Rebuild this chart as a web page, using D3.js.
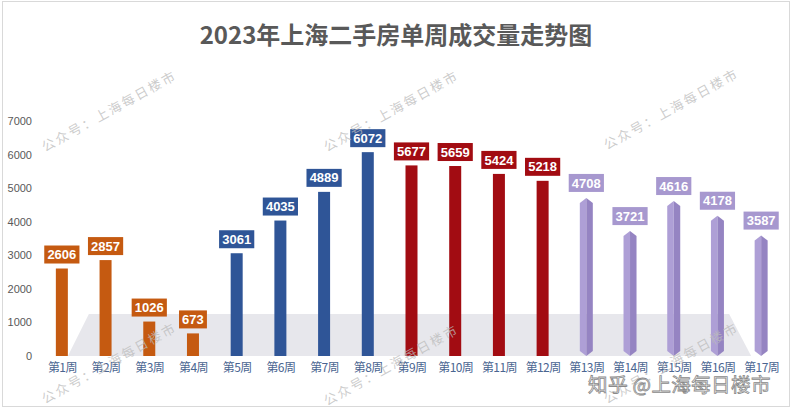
<!DOCTYPE html>
<html><head><meta charset="utf-8">
<script src="https://cdn.jsdelivr.net/npm/d3@7"></script>
<style>html,body{margin:0;padding:0;background:#fff;}svg{display:block;}</style>
</head><body>
<svg id="chart" width="791" height="417"></svg>
<script>
const title = "2023年上海二手房单周成交量走势图";
const categories = ["第1周","第2周","第3周","第4周","第5周","第6周","第7周","第8周","第9周","第10周","第11周","第12周","第13周","第14周","第15周","第16周","第17周"];
const values = [2606,2857,1026,673,3061,4035,4889,6072,5677,5659,5424,5218,4708,3721,4616,4178,3587];
const groups = ["orange","orange","orange","orange","blue","blue","blue","blue","red","red","red","red","purple","purple","purple","purple","purple"];
const yTicks = [0,1000,2000,3000,4000,5000,6000,7000];
const watermark = "公众号：上海每日楼市";
const brand = "知乎 @上海每日楼市";

const colors = {orange:"#c55a11", blue:"#2f5597", red:"#a20c12", purple:"#a393cc"};
const svg = d3.select("#chart");
const cjk = "'Noto Sans CJK SC','Noto Sans',sans-serif";

// border
svg.append("rect").attr("x",2.5).attr("y",1.5).attr("width",787).attr("height",405)
  .attr("fill","#fff").attr("stroke","#d9d9d9").attr("stroke-width",1);

const x = d3.scalePoint().domain(categories).range([40, 783]).padding(0.5);
const y = d3.scaleLinear().domain([0,7000]).range([356,121]);
const bw = 12;

// title
svg.append("text").attr("x",396).attr("y",44).attr("text-anchor","middle")
  .attr("font-family",cjk).attr("font-weight","bold").attr("font-size",24)
  .attr("fill","#595959").text(title);

// floor
const fl0 = x(categories[0]) + 6, flTop = 1250;
const flR = x(categories[16]) - 10;
svg.append("path").attr("fill","#e7e7ec")
  .attr("d", `M${fl0},${y(0)} L${fl0+21},${y(flTop)} L${flR-22},${y(flTop)} L${flR},${y(0)} Z`);

// y axis labels
const yAxis = d3.axisLeft(y).tickValues(yTicks).tickSize(0).tickPadding(0).tickFormat(d3.format("d"));
const ga = svg.append("g").attr("transform","translate(32,0)").call(yAxis);
ga.select(".domain").remove();
ga.selectAll("text").attr("font-family","'Liberation Sans',Arial,sans-serif").attr("font-size",11).attr("fill","#595959");

// x labels
const xAxis = d3.axisBottom(x).tickSize(0).tickPadding(0);
const gx = svg.append("g").attr("transform","translate(0,363)").call(xAxis);
gx.select(".domain").remove();
gx.selectAll("text").attr("font-family",cjk).attr("font-size",12).attr("letter-spacing",-0.6).attr("fill","#4a6591");

// bars
const data = categories.map((c,i)=>({c, v:values[i], g:groups[i]}));
const flat = data.filter(d=>d.g!=="purple");
svg.append("g").selectAll("rect").data(flat).join("rect")
  .attr("x",d=>x(d.c)-bw/2).attr("y",d=>y(d.v)).attr("width",bw).attr("height",d=>y(0)-y(d.v))
  .attr("fill",d=>colors[d.g]);

const purp = data.filter(d=>d.g==="purple");
const pg = svg.append("g");
purp.forEach(d=>{
  const cx = x(d.c), t = y(d.v), b = y(0), h = 6.5, cap = 5;
  pg.append("path").attr("fill","#ae9fd6")
    .attr("d",`M${cx-h},${t+cap} L${cx},${t} L${cx},${b} L${cx-h},${b-cap} Z`);
  pg.append("path").attr("fill","#9584c2")
    .attr("d",`M${cx+h},${t+cap} L${cx},${t} L${cx},${b} L${cx+h},${b-cap} Z`);
});

// value labels
const lg = svg.append("g");
data.forEach(d=>{
  const txt = String(d.v);
  const w = txt.length*7.3 + 6, hh = 18;
  const cx = x(d.c), bottom = y(d.v) - (d.g==="purple"?6:5);
  lg.append("rect").attr("x",cx-w/2).attr("y",bottom-hh).attr("width",w).attr("height",hh)
    .attr("fill", d.g==="purple" ? "#a798cf" : colors[d.g]);
  lg.append("text").attr("x",cx).attr("y",bottom-hh/2+4.6).attr("text-anchor","middle")
    .attr("font-family","'Liberation Sans',Arial,sans-serif").attr("font-weight","bold")
    .attr("font-size",13).attr("fill","#fff").text(txt);
});

// watermarks
const wmPos = [[45,152],[327,152],[607,150],[45,404],[327,406],[607,404]];
const wg = svg.append("g");
wmPos.forEach(([px,py])=>{
  wg.append("text").attr("transform",`translate(${px},${py}) rotate(-29)`)
    .attr("font-family",cjk).attr("font-size",13).attr("letter-spacing",2.2)
    .attr("fill","#bbbbbb").attr("fill-opacity",0.75).text(watermark);
});

// brand watermark
svg.append("text").attr("x",588).attr("y",392)
  .attr("font-family",cjk).attr("font-size",19.5).attr("letter-spacing",0.4)
  .attr("fill","#f4f4f4").attr("fill-opacity",0.9).attr("stroke","#8a8a8a").attr("stroke-width",0.8)
  .text(brand);
</script>
</body></html>
